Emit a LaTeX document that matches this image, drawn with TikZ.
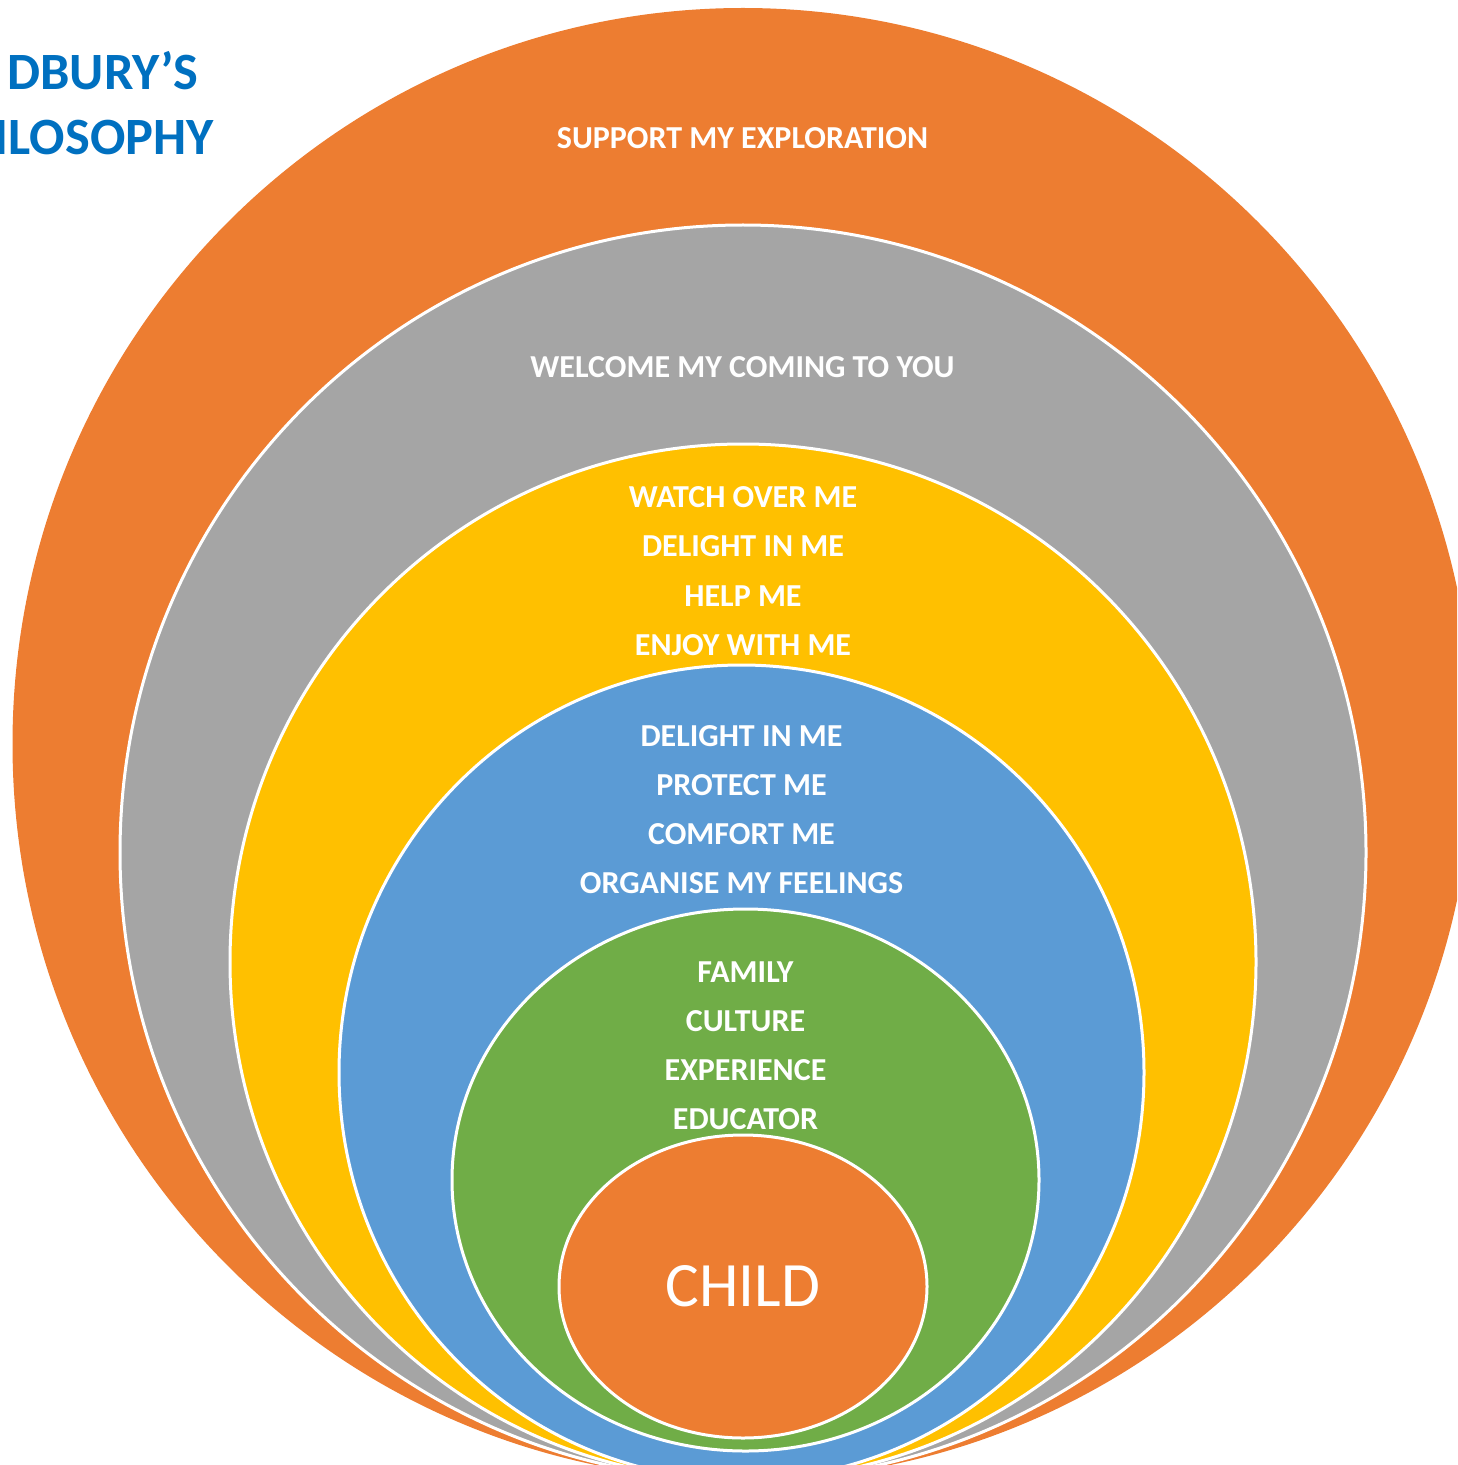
\documentclass[tikz,border=0pt]{standalone}
\usepackage{fontspec}
\setmainfont{Carlito}
\definecolor{ringorange}{HTML}{ED7D31}
\definecolor{ringgray}{HTML}{A5A5A5}
\definecolor{ringyellow}{HTML}{FFC000}
\definecolor{ringblue}{HTML}{5B9BD5}
\definecolor{ringgreen}{HTML}{70AD47}
\definecolor{titleblue}{HTML}{0070C0}
\begin{document}
\begin{tikzpicture}[x=0.5pt,y=-0.5pt,
  ring/.style={draw=white,line width=1.5pt},
  lbl/.style={text=white,font=\bfseries\fontsize{16}{19}\selectfont,inner sep=0pt,anchor=base},
  ttl/.style={text=titleblue,font=\bfseries\fontsize{26.2}{32}\selectfont,inner sep=0pt,anchor=base east}]
\useasboundingbox (0,0) rectangle (1457,1465);
\clip (0,0) rectangle (1457,1465);
% rings
\fill[ringorange] (743,744) ellipse [x radius=730.5, y radius=736];
\filldraw[ring,fill=ringgray] (743,852.5) ellipse [x radius=623, y radius=627.5];
\filldraw[ring,fill=ringyellow] (743,962) ellipse [x radius=513, y radius=518];
\filldraw[ring,fill=ringblue] (741.5,1072.5) ellipse [x radius=402.5, y radius=407.5];
\filldraw[ring,fill=ringgreen] (745.5,1180) ellipse [x radius=293.5, y radius=271];
\filldraw[ring,fill=ringorange] (743,1286.5) ellipse [x radius=184, y radius=151.5];
% title
\node[ttl] (t1) at (199,90) {DBURY’S};
\node[ttl] (t2) at (214,155) {ILOSOPHY};
% labels
\node[lbl] (l1) at (742.5,149) {SUPPORT MY EXPLORATION};
\node[lbl] (l2) at (742.5,378) {WELCOME MY COMING TO YOU};
\node[lbl] (y1) at (743,507) {WATCH OVER ME};
\node[lbl] (y2) at (743,556.5) {DELIGHT IN ME};
\node[lbl] (y3) at (743,606) {HELP ME};
\node[lbl] (y4) at (743,655) {ENJOY WITH ME};
\node[lbl] (b1) at (741.5,746.5) {DELIGHT IN ME};
\node[lbl] (b2) at (741.5,795.5) {PROTECT ME};
\node[lbl] (b3) at (741.5,844.5) {COMFORT ME};
\node[lbl] (b4) at (741.5,893.5) {ORGANISE MY FEELINGS};
\node[lbl] (g1) at (745.5,982.5) {FAMILY};
\node[lbl] (g2) at (745.5,1031.5) {CULTURE};
\node[lbl] (g3) at (745.5,1080.5) {EXPERIENCE};
\node[lbl] (g4) at (745.5,1129.5) {EDUCATOR};
\node[text=white,font=\fontsize{31.6}{38}\selectfont,inner sep=0pt,anchor=base] (c) at (743,1306) {CHILD};
\end{tikzpicture}
\end{document}
